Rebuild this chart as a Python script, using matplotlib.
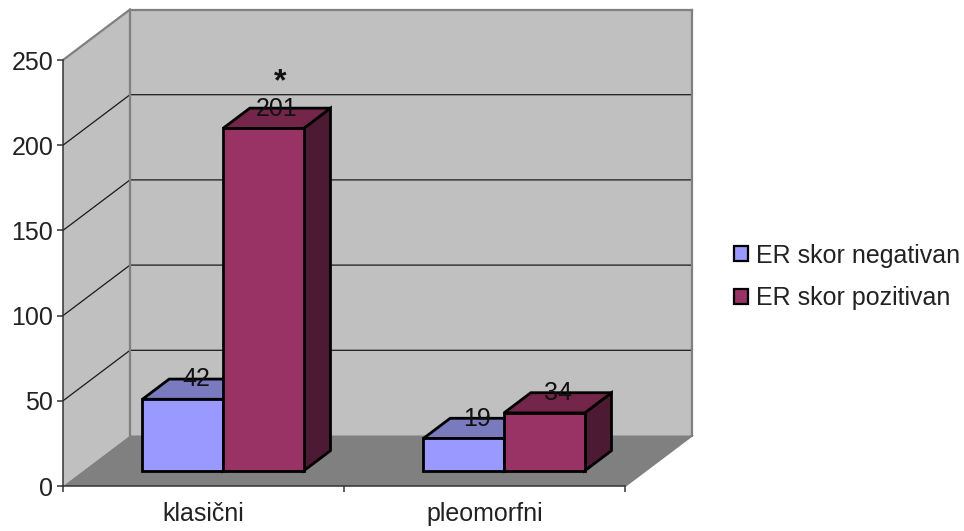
import matplotlib.pyplot as plt
from matplotlib.patches import Polygon, Patch

plt.rcParams['font.family'] = ['Liberation Sans', 'DejaVu Sans']

categories = ['klasični', 'pleomorfni']
series_names = ['ER skor negativan', 'ER skor pozitivan']
negativan = [42, 19]
pozitivan = [201, 34]
y_ticks = [0, 50, 100, 150, 200, 250]

# face / top / side shades of each series
colors = [('#9999ff', '#7a7abf', '#4d4d80'), ('#993366', '#732649', '#4d1a33')]

# oblique projection: full depth of the box in data units
DEPTH_X = 67 / 281
DEPTH_Y = 50.5 / 1.704
BAR_W = 0.287
Y_MAX = 250


def pt(x, y, d):
    return (x + d * DEPTH_X, y + d * DEPTH_Y)


def quad(ax, pts, fc, ec='none', lw=0, z=1):
    ax.add_patch(Polygon(pts, closed=True, fc=fc, ec=ec, lw=lw, zorder=z,
                         clip_on=False, joinstyle='miter'))


def draw_bar(ax, x0, val, shades, z):
    x1 = x0 + BAR_W
    d0, d1 = 0.3, 0.7
    quad(ax, [pt(x1, 0, d0), pt(x1, 0, d1), pt(x1, val, d1), pt(x1, val, d0)],
         shades[2], 'black', 2.0, z)
    quad(ax, [pt(x0, val, d0), pt(x1, val, d0), pt(x1, val, d1), pt(x0, val, d1)],
         shades[1], 'black', 2.0, z)
    quad(ax, [pt(x0, 0, d0), pt(x1, 0, d0), pt(x1, val, d0), pt(x0, val, d0)],
         shades[0], 'black', 2.0, z)


fig = plt.figure(figsize=(9.64, 5.31), dpi=100)
ax = fig.add_axes([63 / 964, 45 / 531, 562 / 964, 426 / 531])
ax.set_xlim(0, 2)
ax.set_ylim(0, Y_MAX)

# walls and floor
wall = '#c0c0c0'
edge = '#808080'
quad(ax, [pt(0, 0, 1), pt(2, 0, 1), pt(2, Y_MAX, 1), pt(0, Y_MAX, 1)], wall, z=1)
quad(ax, [pt(0, 0, 0), pt(0, 0, 1), pt(0, Y_MAX, 1), pt(0, Y_MAX, 0)], wall, z=1)
quad(ax, [pt(0, 0, 0), pt(2, 0, 0), pt(2, 0, 1), pt(0, 0, 1)], edge, z=1)

for v in y_ticks[1:-1]:
    xs, ys = zip(pt(0, v, 0), pt(0, v, 1), pt(2, v, 1))
    ax.plot(xs, ys, color='#1a1a1a', lw=0.9, zorder=2, clip_on=False)

# gray frame of the box
for a, b in [(pt(0, Y_MAX, 0), pt(0, Y_MAX, 1)), (pt(0, Y_MAX, 1), pt(2, Y_MAX, 1)),
             (pt(2, Y_MAX, 1), pt(2, 0, 1)), (pt(2, 0, 1), pt(2, 0, 0)),
             (pt(0, Y_MAX, 1), pt(0, 0, 1))]:
    ax.plot([a[0], b[0]], [a[1], b[1]], color=edge, lw=1.6, zorder=2, clip_on=False)

# bars and value labels
for i in range(len(categories)):
    c = i + 0.5 - 0.002
    draw_bar(ax, c - BAR_W, negativan[i], colors[0], 3)
    draw_bar(ax, c, pozitivan[i], colors[1], 4)
    for x0, val in [(c - BAR_W, negativan[i]), (c, pozitivan[i])]:
        lx, ly = pt(x0 + BAR_W / 2, val, 0.5)
        ax.annotate(str(val), (lx, ly), xytext=(0, 7), textcoords='offset points',
                    ha='center', va='center', fontsize=18, color='#111111', zorder=6)

# significance mark over the tall bar
ax.annotate('*', pt(0.5 + BAR_W / 2, pozitivan[0], 0.5), xytext=(2, 26),
            textcoords='offset points', ha='center', va='center',
            fontsize=23, fontweight='bold', color='#111111', zorder=6)

ax.set_xticks([0, 1, 2])
ax.set_xticklabels([])
ax.set_yticks(y_ticks)
ax.tick_params(axis='y', labelsize=18, length=4.5, width=1.1, pad=2.5, color='#333333',
               labelcolor='#222222')
ax.tick_params(axis='x', length=4.5, width=1.1, color='#333333')
for i, name in enumerate(categories):
    ax.annotate(name, (i + 0.5, 0), xytext=(0, -20), textcoords='offset points',
                ha='center', va='center', fontsize=18, color='#222222')

for s in ['top', 'right']:
    ax.spines[s].set_visible(False)
for s in ['left', 'bottom']:
    ax.spines[s].set_color('#333333')
    ax.spines[s].set_linewidth(1.1)
    ax.spines[s].set_zorder(2.5)
ax.set_facecolor('none')

handles = [Patch(fc=colors[0][0], ec='black', lw=1.6), Patch(fc=colors[1][0], ec='black', lw=1.6)]
fig.legend(handles, series_names, loc='center left', bbox_to_anchor=(711 / 964, 1 - 277 / 531),
           frameon=False, fontsize=18, handlelength=0.56, handleheight=0.56,
           handletextpad=0.32, labelspacing=0.75, labelcolor='#222222')

fig.savefig('out.png', dpi=100)
plt.close(fig)
